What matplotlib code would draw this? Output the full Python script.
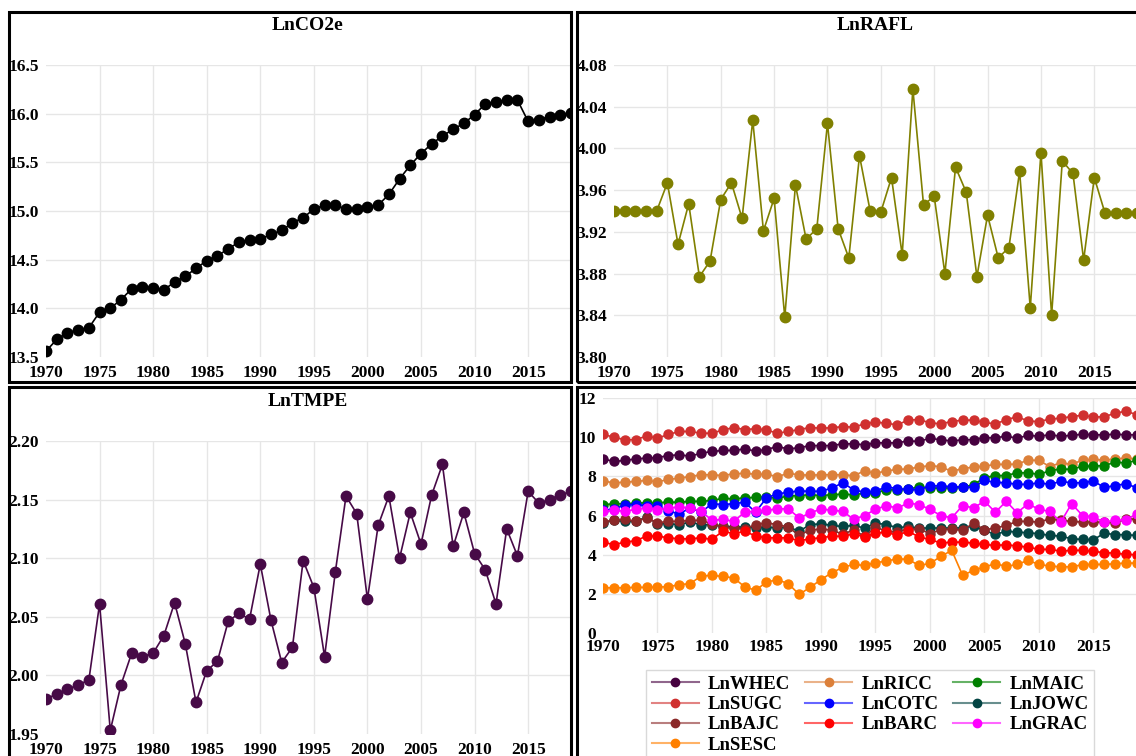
import matplotlib
matplotlib.use("Agg")
from matplotlib import pyplot as plt
from matplotlib.lines import Line2D
from matplotlib.patches import Rectangle

plt.rcParams["font.family"] = ["Liberation Serif", "DejaVu Serif"]
plt.rcParams["font.weight"] = "bold"

years = list(range(1970, 2020))
xticks = list(range(1970, 2020, 5))

co2e = [13.56, 13.68, 13.75, 13.78, 13.80, 13.96, 14.00, 14.09, 14.20, 14.22,
        14.21, 14.19, 14.27, 14.33, 14.41, 14.49, 14.54, 14.61, 14.68, 14.70,
        14.71, 14.76, 14.80, 14.88, 14.93, 15.02, 15.06, 15.06, 15.02, 15.02,
        15.04, 15.06, 15.17, 15.33, 15.47, 15.59, 15.69, 15.77, 15.84, 15.90,
        15.99, 16.10, 16.12, 16.14, 16.14, 15.92, 15.94, 15.97, 15.99, 16.01]

rafl = [3.940, 3.940, 3.940, 3.940, 3.940, 3.967, 3.908, 3.947, 3.877, 3.892,
        3.951, 3.967, 3.933, 4.027, 3.921, 3.952, 3.838, 3.965, 3.913, 3.923,
        4.024, 3.923, 3.895, 3.993, 3.940, 3.939, 3.972, 3.898, 4.057, 3.946,
        3.954, 3.880, 3.982, 3.958, 3.877, 3.936, 3.895, 3.905, 3.978, 3.847,
        3.996, 3.840, 3.988, 3.976, 3.893, 3.972, 3.938, 3.938, 3.938, 3.938]

tmpe = [1.980, 1.984, 1.988, 1.992, 1.996, 2.061, 1.953, 1.992, 2.019, 2.016,
        2.019, 2.034, 2.062, 2.027, 1.977, 2.004, 2.012, 2.046, 2.053, 2.048,
        2.095, 2.047, 2.011, 2.024, 2.098, 2.075, 2.016, 2.088, 2.153, 2.138,
        2.065, 2.128, 2.153, 2.100, 2.139, 2.112, 2.154, 2.180, 2.110, 2.139,
        2.104, 2.090, 2.061, 2.125, 2.102, 2.157, 2.147, 2.150, 2.154, 2.157]

whec = [8.89, 8.76, 8.81, 8.89, 8.93, 8.96, 9.06, 9.10, 9.03, 9.18,
        9.27, 9.32, 9.32, 9.40, 9.29, 9.37, 9.52, 9.40, 9.46, 9.57,
        9.57, 9.57, 9.66, 9.66, 9.61, 9.71, 9.71, 9.71, 9.81, 9.78,
        9.95, 9.86, 9.81, 9.86, 9.88, 9.97, 9.97, 10.05, 9.95, 10.09,
        10.05, 10.12, 10.05, 10.09, 10.15, 10.12, 10.12, 10.15, 10.12, 10.12]

sugc = [10.14, 10.00, 9.86, 9.88, 10.05, 9.95, 10.14, 10.29, 10.29, 10.20,
        10.20, 10.37, 10.49, 10.39, 10.43, 10.37, 10.20, 10.29, 10.39, 10.49,
        10.46, 10.48, 10.54, 10.51, 10.68, 10.77, 10.71, 10.63, 10.87, 10.90,
        10.73, 10.68, 10.80, 10.87, 10.87, 10.75, 10.68, 10.88, 11.05, 10.82,
        10.80, 10.92, 10.97, 11.05, 11.12, 11.02, 11.05, 11.22, 11.33, 11.14]

ricc = [7.76, 7.67, 7.70, 7.74, 7.79, 7.72, 7.84, 7.91, 7.99, 8.08,
        8.08, 8.04, 8.13, 8.15, 8.11, 8.10, 7.99, 8.15, 8.08, 8.06,
        8.08, 8.08, 8.08, 8.03, 8.28, 8.15, 8.28, 8.35, 8.38, 8.47,
        8.55, 8.49, 8.25, 8.40, 8.47, 8.52, 8.61, 8.61, 8.62, 8.83,
        8.81, 8.50, 8.69, 8.61, 8.83, 8.86, 8.83, 8.89, 8.93, 8.89]

maic = [6.55, 6.60, 6.60, 6.63, 6.65, 6.65, 6.68, 6.68, 6.72, 6.72,
        6.77, 6.87, 6.85, 6.90, 6.92, 6.94, 6.89, 6.99, 7.02, 7.06,
        7.02, 7.06, 7.09, 7.06, 7.14, 7.16, 7.31, 7.31, 7.36, 7.45,
        7.40, 7.40, 7.41, 7.45, 7.57, 7.93, 8.04, 8.04, 8.18, 8.18,
        8.10, 8.28, 8.38, 8.35, 8.52, 8.52, 8.55, 8.72, 8.69, 8.81]

cotc = [6.26, 6.31, 6.56, 6.56, 6.51, 6.46, 6.22, 6.09, 6.38, 6.17,
        6.60, 6.56, 6.60, 6.68, 6.17, 6.90, 7.11, 7.18, 7.26, 7.23,
        7.24, 7.40, 7.67, 7.31, 7.19, 7.23, 7.48, 7.36, 7.33, 7.31,
        7.53, 7.50, 7.48, 7.45, 7.45, 7.79, 7.69, 7.67, 7.59, 7.59,
        7.67, 7.59, 7.74, 7.67, 7.67, 7.76, 7.43, 7.53, 7.62, 7.41]

jowc = [5.63, 5.75, 5.70, 5.70, 5.92, 5.58, 5.58, 5.54, 5.66, 5.53,
        5.53, 5.46, 5.41, 5.41, 5.37, 5.41, 5.36, 5.41, 5.20, 5.53,
        5.58, 5.49, 5.44, 5.49, 5.36, 5.61, 5.54, 5.37, 5.44, 5.36,
        5.36, 5.36, 5.36, 5.37, 5.46, 5.24, 5.03, 5.20, 5.15, 5.12,
        5.07, 4.98, 4.95, 4.81, 4.78, 4.76, 5.10, 5.02, 5.02, 4.98]

bajc = [5.66, 5.78, 5.80, 5.70, 5.87, 5.63, 5.70, 5.70, 5.75, 5.75,
        5.58, 5.41, 5.36, 5.32, 5.53, 5.63, 5.53, 5.41, 4.98, 5.27,
        5.29, 5.27, 5.03, 5.27, 4.93, 5.41, 5.20, 5.15, 5.32, 5.32,
        5.07, 5.27, 5.32, 5.24, 5.61, 5.27, 5.36, 5.49, 5.70, 5.70,
        5.66, 5.83, 5.75, 5.70, 5.66, 5.66, 5.66, 5.63, 5.80, 5.83]

barc = [4.64, 4.51, 4.64, 4.71, 4.95, 4.95, 4.86, 4.81, 4.81, 4.86,
        4.78, 5.20, 5.07, 5.20, 4.95, 4.86, 4.86, 4.86, 4.71, 4.81,
        4.86, 4.95, 4.93, 5.07, 4.90, 5.10, 5.15, 4.98, 5.20, 4.90,
        4.78, 4.59, 4.64, 4.64, 4.59, 4.52, 4.47, 4.51, 4.44, 4.39,
        4.27, 4.27, 4.18, 4.22, 4.22, 4.17, 4.10, 4.08, 4.01, 4.00]

grac = [6.21, 6.26, 6.22, 6.31, 6.38, 6.29, 6.38, 6.43, 6.38, 6.22,
        5.75, 5.80, 5.70, 6.17, 6.22, 6.26, 6.34, 6.34, 5.88, 6.12,
        6.34, 6.26, 6.22, 5.80, 6.00, 6.31, 6.51, 6.38, 6.63, 6.56,
        6.31, 6.00, 5.88, 6.51, 6.39, 6.73, 6.17, 6.72, 6.14, 6.60,
        6.31, 6.21, 5.66, 6.60, 6.00, 5.92, 5.66, 5.75, 5.78, 6.09]

sesc = [2.31, 2.31, 2.31, 2.33, 2.33, 2.35, 2.36, 2.47, 2.52, 2.91,
        2.94, 2.89, 2.81, 2.36, 2.18, 2.60, 2.72, 2.52, 1.97, 2.33,
        2.72, 3.08, 3.35, 3.50, 3.45, 3.59, 3.67, 3.79, 3.76, 3.45,
        3.55, 3.91, 4.22, 2.94, 3.20, 3.37, 3.54, 3.40, 3.50, 3.71,
        3.50, 3.42, 3.38, 3.38, 3.49, 3.50, 3.50, 3.54, 3.57, 3.57]

crops = [
    ("LnWHEC", whec, "#46013f"),
    ("LnRICC", ricc, "#dc803a"),
    ("LnMAIC", maic, "#008000"),
    ("LnSUGC", sugc, "#d0302f"),
    ("LnCOTC", cotc, "#0000ff"),
    ("LnJOWC", jowc, "#034443"),
    ("LnBAJC", bajc, "#8b2828"),
    ("LnBARC", barc, "#ff0000"),
    ("LnGRAC", grac, "#ff00ff"),
    ("LnSESC", sesc, "#ff8000"),
]

W, H = 1136, 756
fig = plt.figure(figsize=(W / 100, H / 100), dpi=100)


def px_axes(left, right, top, bottom):
    return fig.add_axes([left / W, 1 - bottom / H, (right - left) / W, (bottom - top) / H])


def style(ax, ylim, yticks, fmt, xpad):
    ax.set_xlim(1970, 2019)
    ax.set_ylim(*ylim)
    ax.set_xticks(xticks)
    ax.set_yticks(yticks)
    ax.set_yticklabels([fmt.format(v) for v in yticks])
    ax.tick_params(length=0, labelsize=12.5, pad=5)
    ax.tick_params(axis="x", pad=xpad)
    for s in ax.spines.values():
        s.set_visible(False)
    for x in xticks[1:]:
        ax.axvline(x, color="#e6e6e6", lw=1, zorder=0)
    for y in yticks[1:]:
        ax.axhline(y, color="#e6e6e6", lw=1, zorder=0)


# top-left
ax1 = px_axes(46, 571, 65, 357)
ax1.plot(years, co2e, color="black", lw=1.2, marker="o", ms=7.5)
style(ax1, (13.5, 16.5), [13.5, 14.0, 14.5, 15.0, 15.5, 16.0, 16.5], "{:.1f}", 6)
fig.text(308 / W, 1 - 26 / H, "LnCO2e", ha="center", va="center", fontsize=14)

# top-right
ax2 = px_axes(614, 1137, 65, 357)
ax2.plot(years, rafl, color="#808000", lw=1.2, marker="o", ms=7.5)
style(ax2, (3.80, 4.08), [3.80, 3.84, 3.88, 3.92, 3.96, 4.00, 4.04, 4.08], "{:.2f}", 6)
fig.text(875 / W, 1 - 26 / H, "LnRAFL", ha="center", va="center", fontsize=14)

# bottom-left
ax3 = px_axes(46, 571, 441, 734)
ax3.plot(years, tmpe, color="#470a47", lw=1.2, marker="o", ms=7.5)
style(ax3, (1.95, 2.20), [1.95, 2.00, 2.05, 2.10, 2.15, 2.20], "{:.2f}", 6)
fig.text(308 / W, 1 - 402 / H, "LnTMPE", ha="center", va="center", fontsize=14)

# bottom-right
ax4 = px_axes(603, 1137, 398, 633)
handles = {}
for name, vals, col in crops:
    ax4.plot(years, vals, color=col, lw=1.2, marker="o", ms=6.5)
    line_h = Line2D([], [], color=col, lw=1.5, alpha=0.6)
    mark_h = Line2D([], [], color=col, marker="o", ms=6, ls="none")
    handles[name] = (line_h, mark_h)
style(ax4, (0, 12), [0, 2, 4, 6, 8, 10, 12], "{:d}", 4)

# matplotlib fills legend columns first, so reorder to get row-wise layout
order = ["LnWHEC", "LnSUGC", "LnBAJC", "LnSESC",
         "LnRICC", "LnCOTC", "LnBARC",
         "LnMAIC", "LnJOWC", "LnGRAC"]
leg = fig.legend([handles[n] for n in order], order, ncol=3,
                 loc="upper left", bbox_to_anchor=(646 / W, 1 - 670 / H),
                 borderaxespad=0, fontsize=13.5, handlelength=2.5,
                 handletextpad=0.5, columnspacing=0.8, labelspacing=0.17,
                 borderpad=0.3, fancybox=False, frameon=True)
leg.get_frame().set_edgecolor("#d0d0d0")
leg.get_frame().set_linewidth(1)

# panel borders
for (l, r, t, b) in [(9, 571, 12, 382), (577, 1150, 12, 382),
                     (9, 571, 387, 770), (577, 1150, 387, 770)]:
    fig.add_artist(Rectangle((l / W, 1 - b / H), (r - l) / W, (b - t) / H,
                             transform=fig.transFigure, fill=False,
                             edgecolor="black", lw=2.2, zorder=5))

fig.savefig("out.png", dpi=100)
